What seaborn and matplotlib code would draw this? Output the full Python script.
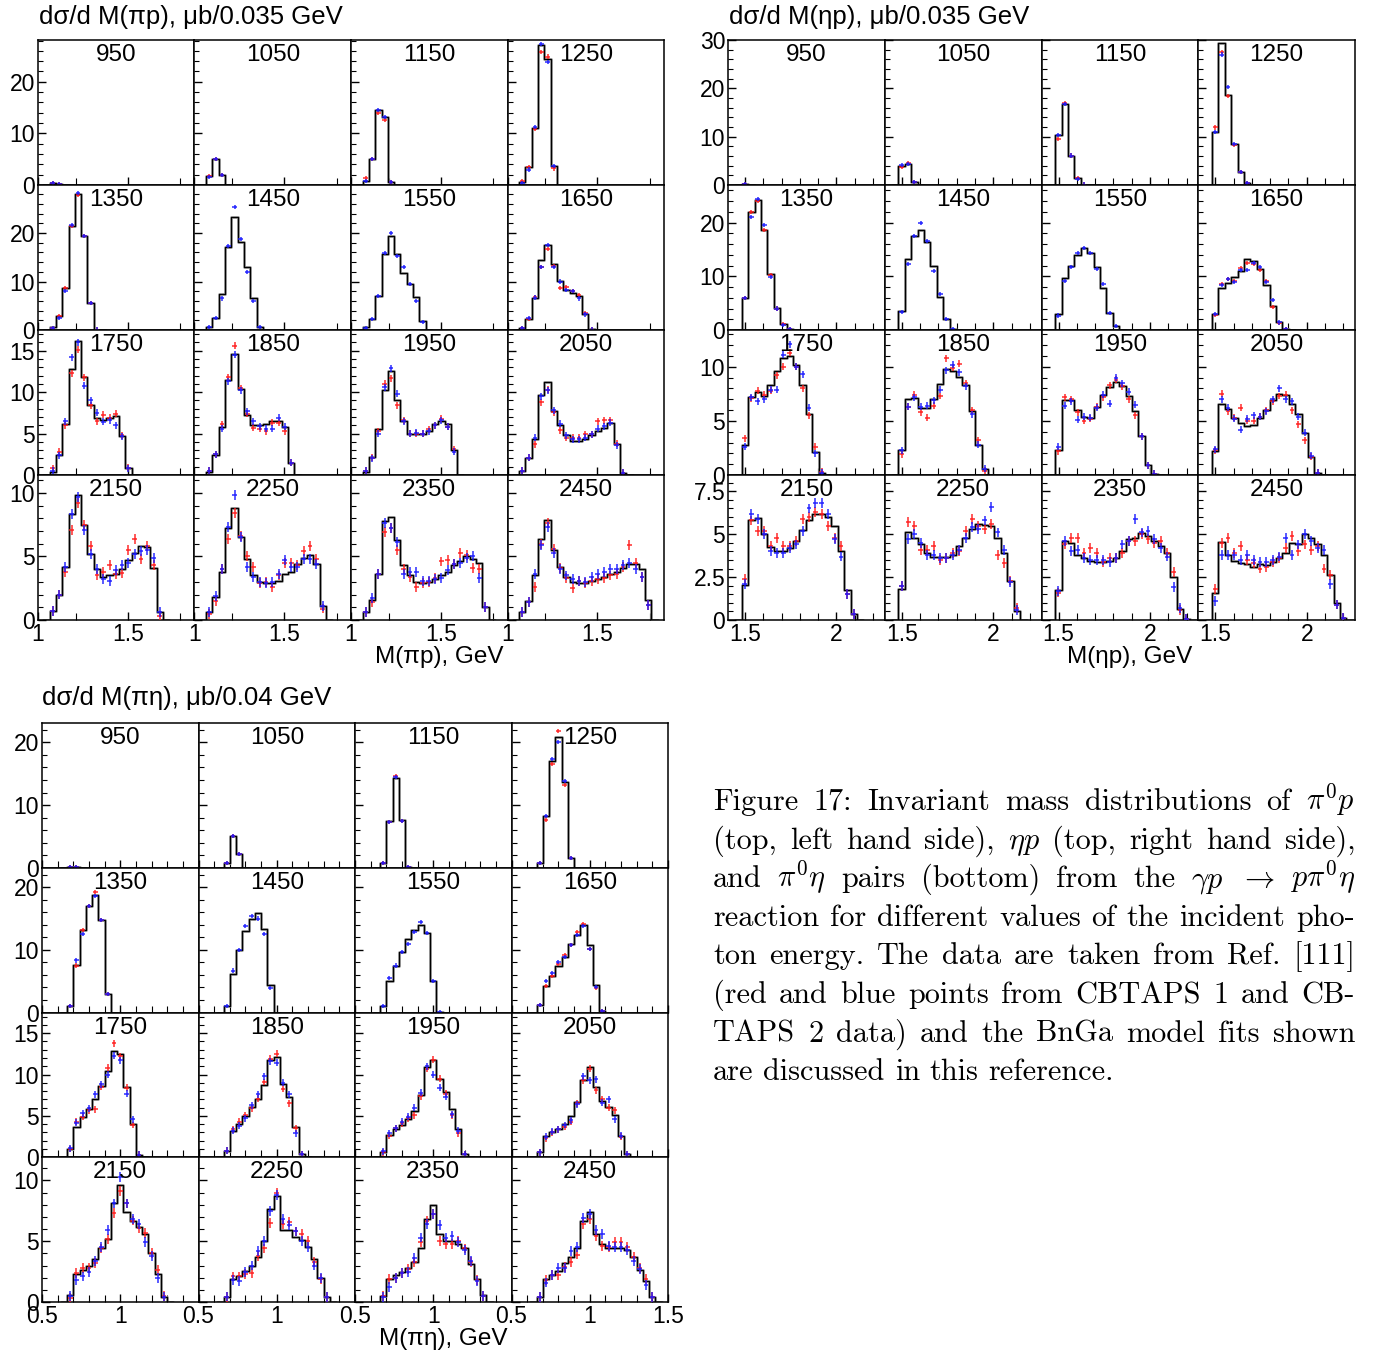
import numpy as np
import pandas as pd
import matplotlib
matplotlib.use("Agg")
import matplotlib.pyplot as plt
from matplotlib.ticker import MultipleLocator, FixedLocator
import seaborn as sns

# ---------------- data ----------------
energies = [950, 1050, 1150, 1250, 1350, 1450, 1550, 1650,
            1750, 1850, 1950, 2050, 2150, 2250, 2350, 2450]

# M(pi p): bins of 0.035 GeV starting at threshold
pip_fit = [
    [0.3, 0.1],
    [1.7, 5.1, 2.0],
    [0.8, 5.1, 14.5, 13.1, 0.5],
    [0.6, 3.4, 11.0, 27.1, 24.5, 3.6],
    [0.55, 2.8, 8.6, 21.4, 28.1, 19.3, 5.5, 0.1],
    [0.55, 2.5, 7.4, 17.2, 23.2, 18.2, 13.0, 6.6, 0.7],
    [0.55, 2.3, 7.0, 15.7, 19.4, 15.7, 11.8, 9.4, 6.9, 1.8],
    [0.4, 2.3, 6.6, 14.5, 17.6, 13.7, 10.2, 8.3, 7.7, 7.0, 3.3, 0.2],
    [0.4, 2.4, 6.1, 12.8, 16.2, 11.8, 8.5, 6.9, 6.6, 6.9, 7.1, 4.7, 0.8],
    [0.4, 2.4, 5.8, 11.5, 14.6, 10.4, 7.3, 6.0, 6.0, 6.2, 6.5, 6.5, 5.8, 1.4],
    [0.4, 2.2, 5.5, 10.2, 12.6, 9.0, 6.5, 5.0, 5.0, 5.0, 5.3, 6.1, 6.5, 6.1, 3.0],
    [0.5, 2.1, 4.3, 9.7, 11.2, 7.7, 6.0, 4.8, 4.1, 4.1, 4.3, 4.8, 5.3, 5.7, 6.3, 3.8, 0.3],
    [0.7, 2.0, 4.2, 8.3, 9.8, 7.5, 5.2, 4.0, 3.4, 3.5, 3.6, 4.0, 4.7, 5.3, 5.8, 5.7, 4.1, 0.6],
    [0.6, 1.8, 3.8, 7.2, 8.8, 6.5, 4.8, 3.5, 3.0, 2.9, 2.9, 3.1, 3.6, 3.8, 4.4, 4.9, 5.1, 4.4, 1.1],
    [0.6, 1.6, 3.6, 7.8, 8.1, 6.3, 4.3, 3.5, 3.0, 2.9, 3.0, 3.2, 3.5, 3.8, 4.3, 4.6, 5.0, 4.8, 4.5, 1.0],
    [0.6, 1.5, 3.5, 6.4, 7.9, 5.5, 4.2, 3.4, 3.0, 2.9, 2.9, 3.1, 3.2, 3.4, 3.6, 3.8, 4.1, 4.4, 4.4, 4.0, 1.6],
]
pip_red = [
    [0.3, 0.1],
    [1.7, 5.1, 2.0],
    [1.3, 5.0, 14.0, 12.6, 0.5],
    [0.8, 3.5, 10.8, 25.8, 24.9, 3.2],
    [0.5, 2.8, 8.6, 21.4, 27.8, 19.3, 5.5, 0.1],
    None,
    None,
    [0.4, 2.3, 6.8, 13.0, 16.7, 13.2, 8.6, 8.8, 8.0, 7.2, 3.6, 0.1],
    [0.8, 2.8, 6.0, 12.3, 15.1, 11.8, 8.4, 6.5, 7.3, 6.9, 7.4, 4.8, 0.9],
    [0.5, 2.5, 6.1, 11.8, 15.6, 10.5, 7.4, 5.7, 5.6, 5.3, 6.3, 6.3, 5.3, 1.5],
    [0.5, 2.1, 5.3, 11.0, 11.7, 8.4, 6.6, 5.0, 5.0, 5.0, 5.5, 6.0, 6.8, 5.8, 3.1],
    [0.5, 2.1, 3.7, 8.8, 10.3, 7.6, 5.4, 4.5, 4.5, 4.5, 4.9, 4.9, 6.5, 6.6, 6.6, 3.8, 0.3],
    [0.7, 2.0, 3.8, 7.1, 9.2, 7.5, 5.8, 3.5, 3.8, 4.3, 3.6, 3.7, 5.5, 6.4, 4.8, 5.8, 4.3, 0.3],
    [0.5, 1.5, 4.0, 6.4, 8.4, 6.6, 5.0, 4.2, 2.9, 3.0, 2.6, 3.5, 4.5, 4.5, 4.3, 5.4, 5.8, 4.8, 0.9],
    [0.6, 1.4, 3.6, 6.9, 7.2, 5.5, 4.0, 3.4, 2.6, 2.9, 3.0, 3.3, 4.6, 4.7, 4.4, 5.3, 5.1, 4.1, 4.0, 1.0],
    [0.6, 1.4, 2.6, 6.0, 7.6, 5.6, 4.1, 3.3, 2.5, 3.1, 2.9, 3.1, 3.2, 3.3, 3.5, 3.6, 4.2, 5.9, 4.5, 3.4, 1.2],
]
pip_blue = [
    [0.3, 0.1],
    [1.6, 5.1, 2.0],
    [0.8, 5.1, 14.5, 13.1, 0.6],
    [0.4, 3.0, 11.2, 27.3, 23.9, 3.6],
    [0.5, 2.4, 8.0, 21.6, 28.3, 19.3, 5.5, 0.1],
    [0.6, 2.4, 6.5, 17.4, 25.3, 18.8, 11.9, 6.0, 0.7],
    [0.5, 2.3, 7.0, 15.9, 20.0, 15.3, 12.9, 9.4, 6.0, 1.6],
    [0.4, 2.4, 6.7, 12.9, 17.5, 13.0, 10.0, 8.2, 8.1, 6.5, 3.2, 0.1],
    [0.5, 2.4, 6.5, 14.2, 16.0, 10.8, 9.0, 7.5, 6.4, 6.6, 6.0, 4.7, 0.8],
    [0.5, 2.5, 5.6, 11.3, 14.5, 10.2, 7.7, 6.5, 5.9, 5.6, 5.6, 6.9, 5.8, 1.5],
    [0.5, 2.0, 5.0, 10.6, 12.9, 9.8, 6.5, 5.0, 5.1, 5.0, 5.3, 6.0, 6.6, 5.8, 2.8],
    [0.5, 2.1, 4.5, 9.5, 10.2, 7.8, 6.2, 4.8, 4.3, 4.3, 4.5, 4.9, 5.6, 5.9, 6.3, 3.6, 0.3],
    [0.7, 2.0, 4.2, 8.3, 9.7, 7.1, 5.2, 4.0, 3.2, 3.1, 3.9, 4.3, 4.5, 5.2, 5.4, 5.5, 4.9, 0.6],
    [0.6, 1.9, 4.0, 7.3, 9.8, 6.5, 4.2, 3.4, 3.0, 2.9, 3.0, 3.6, 4.7, 4.2, 4.2, 4.8, 4.8, 4.4, 1.1],
    [0.6, 1.7, 3.6, 7.6, 7.2, 6.1, 3.6, 3.8, 3.8, 3.1, 3.1, 3.2, 3.3, 3.9, 4.4, 4.5, 4.9, 5.0, 3.3, 1.0],
    [0.6, 1.4, 3.6, 5.9, 7.3, 5.3, 4.0, 3.5, 3.2, 3.1, 3.0, 3.4, 3.6, 3.8, 4.0, 4.0, 4.3, 4.5, 4.0, 3.4, 1.2],
]

# M(eta p): bins of 0.035 GeV
etap_fit = [
    [0.3],
    [3.9, 4.4, 0.7],
    [10.3, 16.7, 6.1, 1.4, 0.1],
    [10.9, 29.4, 18.6, 8.4, 2.6, 0.4],
    [6.0, 22.0, 24.2, 18.6, 10.5, 4.1, 1.1, 0.1],
    [3.6, 13.3, 17.5, 18.6, 16.3, 12.0, 6.1, 2.1, 0.2],
    [3.0, 9.6, 11.9, 13.9, 15.2, 14.3, 11.8, 7.9, 3.2, 0.8],
    [3.0, 7.9, 8.8, 9.8, 10.9, 13.2, 12.9, 11.4, 8.3, 4.5, 1.4, 0.1],
    [2.75, 7.25, 7.65, 7.3, 8.3, 9.6, 10.8, 11.0, 10.2, 8.3, 5.6, 2.1, 0.2],
    [2.3, 7.0, 7.1, 6.2, 6.2, 7.0, 8.4, 9.75, 9.6, 9.1, 8.3, 5.9, 2.75, 0.6],
    [2.3, 6.9, 6.9, 6.0, 5.4, 5.3, 6.3, 7.35, 8.1, 8.6, 8.2, 7.3, 5.9, 3.6, 0.9, 0.1],
    [2.2, 6.6, 6.1, 5.3, 4.8, 4.5, 4.6, 5.3, 6.0, 6.9, 7.5, 7.4, 6.6, 5.6, 3.9, 1.7, 0.2],
    [2.05, 5.8, 5.95, 5.0, 4.25, 4.0, 4.0, 4.2, 4.6, 5.25, 5.8, 6.2, 6.2, 6.0, 5.5, 4.0, 1.75, 0.35],
    [1.8, 5.1, 4.8, 4.45, 3.9, 3.7, 3.65, 3.65, 3.8, 4.3, 4.8, 5.3, 5.6, 5.55, 5.5, 4.8, 3.9, 2.25, 0.5],
    [1.75, 4.6, 4.5, 3.8, 3.6, 3.45, 3.4, 3.4, 3.45, 3.6, 4.0, 4.7, 4.75, 5.05, 4.9, 4.6, 4.3, 3.9, 2.5, 0.65, 0.05],
    [1.55, 4.55, 3.8, 3.45, 3.3, 3.25, 3.1, 3.25, 3.2, 3.4, 3.6, 3.9, 4.5, 4.4, 5.0, 4.8, 4.4, 3.8, 2.65, 1.0, 0.1],
]
etap_red = [
    [0.3],
    [3.7, 4.5, 0.7],
    [9.6, 16.9, 6.1, 1.4, 0.1],
    [11.9, 27.6, 18.4, 8.3, 2.6, 0.4],
    [6.0, 22.0, 24.0, 18.6, 10.3, 4.0, 1.1, 0.1],
    None,
    None,
    [2.8, 8.5, 9.5, 9.2, 11.5, 12.4, 12.3, 11.2, 9.1, 4.2, 1.3, 0.1],
    [3.4, 7.1, 7.8, 7.4, 7.8, 9.2, 10.0, 11.3, 10.0, 8.0, 5.5, 2.6, 0.3],
    [1.9, 6.3, 7.4, 5.8, 5.3, 6.4, 7.3, 10.8, 9.9, 10.3, 8.5, 6.0, 3.2, 0.4],
    [2.2, 7.2, 7.0, 5.8, 5.0, 5.2, 6.3, 7.2, 8.3, 8.8, 8.2, 7.0, 5.5, 3.6, 0.9, 0.1],
    [2.3, 7.5, 5.9, 5.3, 6.2, 5.0, 5.0, 5.4, 6.0, 6.8, 7.3, 7.4, 6.0, 4.7, 3.2, 1.7, 0.2],
    [2.4, 5.8, 5.2, 5.2, 4.3, 4.8, 4.3, 4.3, 4.6, 5.9, 6.0, 6.3, 6.2, 5.5, 4.8, 4.3, 1.5, 0.35],
    [2.0, 5.7, 5.5, 4.1, 4.1, 4.3, 3.5, 3.6, 3.9, 4.0, 5.2, 5.9, 5.5, 5.3, 5.6, 3.8, 3.3, 2.3, 0.7],
    [1.6, 4.4, 4.8, 4.8, 3.9, 4.2, 3.9, 3.4, 3.6, 3.6, 3.9, 4.6, 4.6, 5.0, 4.7, 4.5, 4.6, 3.9, 2.8, 0.6, 0.05],
    [1.8, 4.5, 4.8, 3.9, 4.3, 3.5, 3.3, 3.0, 3.1, 3.4, 3.6, 4.2, 4.9, 4.0, 4.4, 4.1, 4.3, 3.0, 2.6, 0.9, 0.1],
]
etap_blue = [
    [0.3],
    [4.2, 4.4, 0.6],
    [10.3, 16.8, 6.1, 1.3, 0.1],
    [10.9, 27.0, 20.3, 8.5, 2.6, 0.4],
    [5.9, 21.1, 24.4, 19.6, 9.9, 4.0, 1.0, 0.1],
    [3.3, 12.3, 17.5, 20.0, 16.6, 10.9, 6.7, 2.1, 0.2],
    [2.7, 9.1, 11.8, 14.4, 15.2, 14.3, 11.3, 8.5, 3.2, 0.8],
    [3.0, 8.3, 9.5, 8.9, 11.2, 11.2, 12.4, 11.8, 9.0, 5.6, 1.4, 0.1],
    [2.6, 7.2, 6.8, 7.0, 7.9, 7.9, 11.1, 12.1, 10.0, 9.3, 6.2, 2.0, 0.2],
    [2.3, 6.3, 7.2, 6.3, 6.4, 6.9, 7.9, 9.7, 10.2, 9.5, 8.2, 5.6, 2.8, 0.6],
    [2.6, 6.4, 6.8, 5.1, 5.4, 5.3, 6.2, 7.4, 6.6, 9.0, 8.5, 7.7, 6.5, 3.6, 0.9, 0.1],
    [2.4, 7.0, 6.2, 5.2, 4.2, 5.2, 5.5, 5.4, 5.9, 7.0, 8.0, 7.0, 6.8, 5.4, 3.9, 1.8, 0.2],
    [2.1, 6.2, 5.9, 5.0, 4.0, 3.9, 3.9, 4.2, 4.4, 5.2, 6.5, 6.8, 6.8, 6.2, 4.7, 3.7, 1.5, 0.35],
    [2.0, 4.7, 5.0, 4.5, 3.8, 3.8, 3.6, 3.6, 3.8, 4.1, 4.8, 5.4, 5.3, 5.8, 6.6, 5.1, 4.1, 2.2, 0.6],
    [1.7, 4.6, 4.0, 4.1, 3.6, 3.5, 3.5, 3.5, 3.4, 3.6, 4.4, 4.6, 5.9, 5.1, 5.2, 4.7, 4.2, 3.7, 1.9, 0.7, 0.05],
    [1.1, 3.8, 3.8, 3.8, 3.5, 3.8, 3.5, 3.4, 3.4, 3.5, 3.7, 4.8, 3.8, 4.4, 5.0, 4.6, 4.2, 4.1, 2.1, 0.9, 0.1],
]

# M(pi eta): bins of 0.04 GeV
pieta_fit = [
    [0.15, 0.15],
    [0.8, 5.1, 2.2],
    [0.8, 7.4, 14.4, 7.6, 0.05],
    [0.8, 8.2, 17.0, 20.8, 13.7, 1.6],
    [1.05, 7.6, 13.1, 17.0, 18.8, 14.8, 2.9],
    [1.05, 6.2, 9.9, 13.0, 14.9, 15.8, 13.4, 4.35],
    [1.05, 5.1, 7.4, 9.7, 11.7, 13.1, 14.0, 12.7, 5.0, 0.1],
    [1.15, 4.25, 5.8, 7.5, 8.85, 11.0, 12.3, 14.0, 10.7, 4.45, 0.2],
    [1.05, 3.7, 4.9, 5.85, 7.05, 8.6, 10.4, 12.8, 12.5, 8.5, 4.0, 0.25],
    [0.8, 3.2, 4.0, 5.0, 6.1, 7.05, 8.7, 11.7, 12.1, 8.9, 7.3, 3.7, 0.35],
    [0.65, 2.65, 3.4, 3.9, 4.6, 5.6, 7.5, 10.9, 11.8, 9.4, 7.9, 5.8, 3.4, 0.35],
    [0.65, 2.6, 3.05, 3.45, 4.0, 5.0, 6.65, 9.3, 10.9, 8.5, 6.85, 6.1, 5.1, 2.6, 0.35],
    [0.55, 2.3, 2.65, 2.95, 3.5, 4.4, 5.2, 8.1, 9.6, 7.4, 6.7, 6.2, 5.6, 4.0, 2.3, 0.45],
    [0.45, 1.85, 2.1, 2.55, 3.0, 3.7, 5.05, 7.65, 8.75, 5.9, 5.9, 5.35, 5.1, 4.5, 3.55, 2.0, 0.4],
    [0.5, 1.9, 2.2, 2.45, 2.8, 3.3, 4.4, 6.85, 8.0, 5.6, 5.05, 5.0, 4.8, 4.4, 3.15, 1.85, 0.55],
    [0.4, 1.9, 2.2, 2.55, 3.2, 3.7, 4.4, 6.7, 7.4, 5.6, 4.8, 4.45, 4.45, 4.45, 4.25, 3.7, 2.6, 1.75, 0.45],
]
pieta_red = [
    [0.15, 0.15],
    [0.8, 5.1, 2.2],
    [0.8, 7.3, 14.6, 7.5, 0.05],
    [0.8, 7.7, 16.6, 21.8, 13.2, 1.6],
    [1.0, 7.5, 13.2, 17.0, 19.3, 14.8, 2.9],
    None,
    None,
    [1.2, 4.3, 5.9, 7.8, 9.2, 10.8, 12.9, 14.1, 10.2, 3.9, 0.2],
    [1.0, 4.3, 4.9, 5.7, 5.8, 8.5, 10.8, 13.8, 12.2, 8.4, 3.9, 0.3],
    [0.8, 3.4, 4.3, 5.1, 5.9, 7.1, 9.1, 11.9, 12.5, 8.3, 6.5, 3.5, 0.35],
    [0.6, 2.6, 3.5, 4.1, 4.7, 5.1, 7.4, 10.7, 11.8, 9.5, 7.7, 5.1, 2.9, 0.35],
    [0.6, 2.3, 3.0, 3.4, 3.7, 4.3, 6.5, 9.3, 10.7, 8.1, 7.0, 6.0, 5.7, 2.5, 0.35],
    [0.3, 2.4, 2.8, 2.8, 3.2, 4.4, 5.2, 7.3, 9.1, 8.1, 6.7, 6.1, 5.7, 4.0, 2.6, 0.5],
    [0.4, 2.1, 2.1, 2.3, 2.4, 3.8, 4.4, 6.5, 9.0, 6.4, 6.6, 5.8, 5.6, 5.0, 3.3, 1.9, 0.4],
    [0.5, 1.9, 2.0, 2.4, 2.7, 3.3, 4.9, 6.7, 7.2, 5.0, 4.8, 4.8, 5.0, 4.4, 3.3, 1.8, 0.5],
    [0.4, 1.8, 2.2, 2.2, 2.9, 3.3, 3.9, 6.4, 6.8, 5.4, 4.6, 4.5, 4.9, 4.9, 4.5, 3.7, 2.8, 1.9, 0.4],
]
pieta_blue = [
    [0.15, 0.15],
    [0.8, 5.1, 2.2],
    [0.8, 7.3, 14.5, 7.5, 0.05],
    [0.8, 8.2, 17.3, 20.1, 13.8, 1.6],
    [1.0, 8.3, 12.6, 17.0, 18.6, 14.8, 2.9],
    [1.1, 6.7, 9.9, 13.8, 15.4, 15.0, 12.6, 3.9],
    [1.1, 5.5, 7.5, 9.7, 10.9, 12.8, 14.5, 12.7, 5.0, 0.1],
    [1.2, 5.1, 6.3, 8.1, 8.9, 10.7, 12.3, 13.8, 10.2, 4.1, 0.2],
    [1.1, 4.2, 5.3, 5.9, 7.6, 8.8, 10.0, 12.3, 11.7, 7.7, 4.6, 0.3],
    [0.8, 3.2, 3.8, 4.7, 6.3, 7.6, 9.8, 11.6, 11.4, 9.0, 7.6, 2.9, 0.35],
    [0.7, 2.9, 3.5, 4.3, 4.9, 6.0, 7.8, 11.0, 10.0, 8.4, 7.3, 5.2, 3.2, 0.35],
    [0.6, 2.5, 3.1, 3.4, 3.9, 4.5, 6.4, 9.8, 9.3, 9.4, 6.6, 7.0, 4.6, 2.6, 0.35],
    [0.5, 1.8, 2.1, 2.5, 3.4, 4.5, 5.9, 8.1, 10.3, 8.1, 6.8, 6.4, 4.9, 3.8, 2.0, 0.45],
    [0.45, 1.8, 1.7, 2.5, 3.0, 4.2, 5.0, 7.5, 8.8, 6.8, 6.3, 5.8, 5.0, 4.5, 3.0, 2.0, 0.4],
    [0.4, 1.2, 2.0, 2.4, 2.5, 3.6, 5.3, 6.4, 7.2, 6.3, 5.3, 5.4, 4.9, 4.3, 3.4, 1.7, 0.5],
    [0.4, 1.6, 2.2, 2.8, 2.8, 4.2, 4.5, 6.9, 7.2, 5.9, 5.6, 4.6, 4.5, 4.5, 4.3, 3.4, 2.7, 1.4, 0.4],
]

caption_lines = [
    ["Figure", "17:", "Invariant", "mass", "distributions", "of", r"$\pi^0p$"],
    ["(top,", "left", "hand", "side),", r"$\eta p$", "(top,", "right", "hand", "side),"],
    ["and", r"$\pi^0\eta$", "pairs", "(bottom)", "from", "the", r"$\gamma p$", r"$\rightarrow$", r"$p\pi^0\eta$"],
    ["reaction", "for", "different", "values", "of", "the", "incident", "pho-"],
    ["ton", "energy.", "The", "data", "are", "taken", "from", "Ref.", "[111]"],
    ["(red", "and", "blue", "points", "from", "CBTAPS", "1", "and", "CB-"],
    ["TAPS", "2", "data)", "and", "the", "BnGa", "model", "fits", "shown"],
    ["are", "discussed", "in", "this", "reference."],
]

# ---------------- style ----------------
sns.set_theme(style="white")
plt.rcParams["font.family"] = ["Liberation Sans", "DejaVu Sans"]
plt.rcParams["mathtext.fontset"] = "cm"

W, H = 1375, 1358
fig = plt.figure(figsize=(W / 100, H / 100), dpi=100)
fig.patch.set_facecolor("white")

panels = [
    dict(fit=pip_fit, red=pip_red, blue=pip_blue, box=(38, 664, 40, 620),
         xlim=(1.0, 1.87), start=1.065, width=0.035,
         ylims=[28.1, 29.9, 17.5, 11.4],
         yticks=[[0, 10, 20], [0, 10, 20], [0, 5, 10, 15], [0, 5, 10]],
         yminor=[2, 2, 1, 1],
         xmajor=[1.0, 1.5], xlabels=["1", "1.5"], xminor=[1.21, 1.79], xlast=None,
         title="dσ/d M(πp), μb/0.035 GeV", tpos=(39, 17),
         xlabel="M(πp), GeV", xlpos=(439, 657)),
    dict(fit=etap_fit, red=etap_red, blue=etap_blue, box=(728, 1355, 40, 620),
         xlim=(1.407, 2.264), start=1.482, width=0.035,
         ylims=[30.0, 27.0, 13.4, 8.45],
         yticks=[[0, 10, 20, 30], [0, 10, 20], [0, 5, 10], [0, 2.5, 5, 7.5]],
         yminor=[2, 2, 1, 0.5],
         xmajor=[1.5, 2.0], xlabels=["1.5", "2"], xminor=[1.6, 1.7, 1.8, 1.9, 2.1, 2.2], xlast=None,
         title="dσ/d M(ηp), μb/0.035 GeV", tpos=(729, 17),
         xlabel="M(ηp), GeV", xlpos=(1130, 657)),
    dict(fit=pieta_fit, red=pieta_red, blue=pieta_blue, box=(42, 668, 723, 1302),
         xlim=(0.5, 1.5), start=0.66, width=0.04,
         ylims=[23.1, 23.1, 17.5, 11.9],
         yticks=[[0, 10, 20], [0, 10, 20], [0, 5, 10, 15], [0, 5, 10]],
         yminor=[2, 2, 1, 1],
         xmajor=[0.5, 1.0], xlabels=["0.5", "1"], xminor=[0.6, 0.7, 0.8, 0.9, 1.1, 1.2, 1.3, 1.4],
         xlast=([0.5, 1.0, 1.5], ["0.5", "1", "1.5"]),
         title="dσ/d M(πη), μb/0.04 GeV", tpos=(42, 698),
         xlabel="M(πη), GeV", xlpos=(443, 1339)),
]

TICK_FS = 16.5
CELL_FS = 17.5
TITLE_FS = 18.5
LABEL_FS = 17.5


def fmt(v):
    return str(int(v)) if float(v).is_integer() else str(v)


for p in panels:
    left, right, top, bottom = p["box"]
    cw = (right - left) / 4.0
    ch = (bottom - top) / 4.0
    for i, E in enumerate(energies):
        r, c = divmod(i, 4)
        x0 = left + c * cw
        y0 = top + r * ch
        ax = fig.add_axes([x0 / W, 1 - (y0 + ch) / H, cw / W, ch / H])
        ax.set_facecolor("white")

        vals = p["fit"][i]
        n = len(vals)
        w = p["width"]
        centers = p["start"] + w * (np.arange(n) + 0.5)
        edges = (p["start"] + w * np.arange(-1, n + 2)).tolist()
        df = pd.DataFrame({"m": centers, "v": vals})
        sns.histplot(data=df, x="m", weights="v", bins=edges, element="step",
                     fill=False, color="#8c8c8c", linewidth=1.9, ax=ax)
        sns.histplot(data=df, x="m", weights="v", bins=edges, element="step",
                     fill=False, color="black", linewidth=0.85, ax=ax)

        ylim = p["ylims"][r]
        frac = 0.014 if r < 2 else (0.024 if r == 2 else 0.034)
        for series, col in ((p["red"][i], "#ff1a1a"), (p["blue"][i], "#1a1aff")):
            if series is None:
                continue
            ax.errorbar(centers, series, xerr=0.38 * w, yerr=frac * ylim,
                        fmt="none", ecolor=col, elinewidth=1.2, alpha=0.85,
                        capsize=0, zorder=4)

        ax.set_xlim(*p["xlim"])
        ax.set_ylim(0, ylim)
        ax.set_xlabel("")
        ax.set_ylabel("")

        # ticks
        if p["xlast"] is not None and c == 3:
            xt, xl = p["xlast"]
        else:
            xt, xl = p["xmajor"], p["xlabels"]
        ax.xaxis.set_major_locator(FixedLocator(xt))
        ax.xaxis.set_minor_locator(FixedLocator(p["xminor"]))
        ax.set_xticklabels(xl if r == 3 else [""] * len(xt))
        yt = p["yticks"][r]
        ax.yaxis.set_major_locator(FixedLocator(yt))
        ax.yaxis.set_minor_locator(MultipleLocator(p["yminor"][r]))
        ax.set_yticklabels([fmt(v) for v in yt] if c == 0 else [""] * len(yt))
        ax.tick_params(which="both", direction="in", top=False, right=False,
                       bottom=True, left=True, colors="black", labelsize=TICK_FS)
        ax.tick_params(which="major", length=6, width=1.0, pad=2)
        ax.tick_params(which="minor", length=3.5, width=0.8)
        ax.tick_params(axis="x", which="minor", length=5)
        for s in ax.spines.values():
            s.set_color("black")
            s.set_linewidth(1.1)
        ax.text(0.5, 1 - 15.0 / ch, str(E), transform=ax.transAxes,
                ha="center", va="center", fontsize=CELL_FS, color="black", zorder=6)

    fig.text(p["tpos"][0] / W, 1 - p["tpos"][1] / H, p["title"], ha="left",
             va="center", fontsize=TITLE_FS, color="black")
    fig.text(p["xlpos"][0] / W, 1 - p["xlpos"][1] / H, p["xlabel"], ha="center",
             va="center", fontsize=LABEL_FS, color="black")

# ---------------- caption (justified) ----------------
renderer = fig.canvas.get_renderer()
cap_x0, cap_x1 = 713, 1355
cap_y0, cap_dy = 810, 38.6
CAP_FS = 21.8
for li, words in enumerate(caption_lines):
    ybase = cap_y0 + li * cap_dy
    texts = [fig.text(0, 1 - ybase / H, wd, ha="left", va="baseline",
                      fontsize=CAP_FS, family=["cmr10", "DejaVu Serif"], color="black")
             for wd in words]
    widths = [t.get_window_extent(renderer).width for t in texts]
    if li < len(caption_lines) - 1 and len(words) > 1:
        gap = (cap_x1 - cap_x0 - sum(widths)) / (len(words) - 1)
    else:
        gap = 0.33 * CAP_FS * 100 / 72
    x = cap_x0
    for t, wd in zip(texts, widths):
        t.set_x(x / W)
        x += wd + gap

fig.savefig("out.png", dpi=100, facecolor="white")
